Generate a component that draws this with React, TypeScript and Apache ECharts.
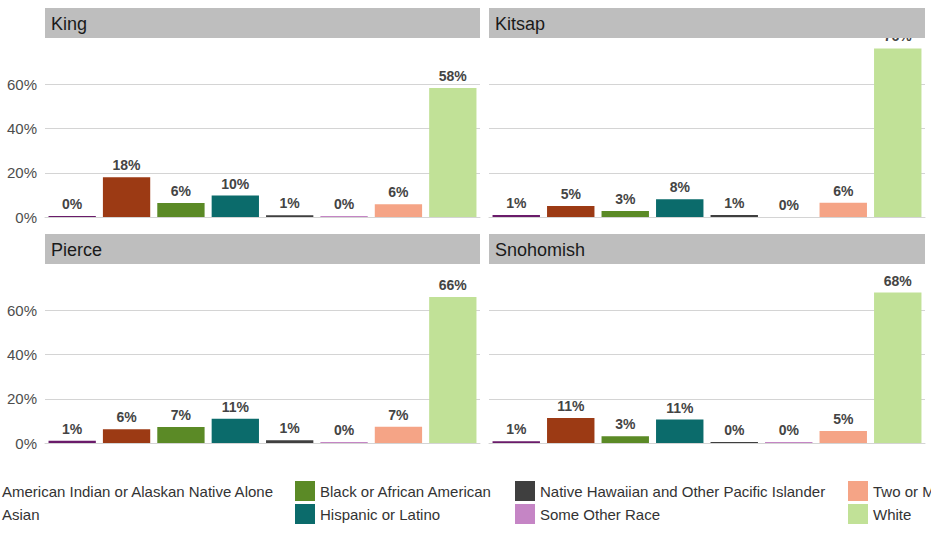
import React, { useEffect, useRef } from 'react';
import * as echarts from 'echarts';

const categories = [
  'American Indian or Alaskan Native Alone',
  'Asian',
  'Black or African American',
  'Hispanic or Latino',
  'Native Hawaiian and Other Pacific Islander',
  'Some Other Race',
  'Two or More Races',
  'White',
];
const colors = ['#6a1b6a', '#9c3a14', '#5b8a26', '#0b6b6b', '#3f3f3f', '#c585c5', '#f5a486', '#c1e197'];
const counties = ['King', 'Kitsap', 'Pierce', 'Snohomish'];
const kingValues = [0.004, 0.18, 0.063, 0.097, 0.008, 0.004, 0.058, 0.583];
const kitsapValues = [0.009, 0.05, 0.027, 0.08, 0.009, 0, 0.064, 0.762];
const pierceValues = [0.01, 0.062, 0.072, 0.11, 0.012, 0.004, 0.074, 0.66];
const snohomishValues = [0.008, 0.113, 0.031, 0.106, 0.004, 0.004, 0.054, 0.68];
const panelValues = [kingValues, kitsapValues, pierceValues, snohomishValues];
const yTicks = [0, 0.2, 0.4, 0.6];

const App: React.FC = () => {
  const chartRef = useRef<HTMLDivElement>(null);

  useEffect(() => {
    document.body.style.margin = '0';
    if (!chartRef.current) return;
    const chart = echarts.init(chartRef.current, undefined, { renderer: 'svg' });
    const boxes = [
      { left: 45, top: 40, width: 435, height: 177 },
      { left: 489, top: 40, width: 436, height: 177 },
      { left: 45, top: 266, width: 435, height: 177 },
      { left: 489, top: 266, width: 436, height: 177 },
    ];
    const font = 'Liberation Sans, Arial, sans-serif';
    const series: any[] = [];
    panelValues.forEach((vals, g) => {
      categories.forEach((name, i) => {
        series.push({
          name,
          type: 'bar',
          xAxisIndex: g,
          yAxisIndex: g,
          stack: 'g' + g,
          barCategoryGap: '13%',
          itemStyle: { color: colors[i] },
          label: {
            show: true,
            position: 'top',
            fontFamily: font,
            fontSize: 14,
            fontWeight: 'bold',
            color: '#444',
            formatter: (p: any) => Math.round(p.value * 100) + '%',
          },
          data: categories.map((_, j) => (j === i ? vals[i] : '-')),
        });
      });
    });
    const legendCols = [
      { left: -28, names: [categories[0], categories[1]] },
      { left: 290, names: [categories[2], categories[3]] },
      { left: 510, names: [categories[4], categories[5]] },
      { left: 843, names: [categories[6], categories[7]] },
    ];
    chart.setOption({
      animation: false,
      grid: boxes,
      xAxis: boxes.map((_, g) => ({
        type: 'category',
        gridIndex: g,
        data: categories,
        axisLabel: { show: false },
        axisTick: { show: false },
        axisLine: { lineStyle: { color: '#d4d4d4' } },
      })),
      yAxis: boxes.map((_, g) => ({
        type: 'value',
        gridIndex: g,
        min: 0,
        max: 0.8,
        interval: 0.2,
        axisLabel: {
          show: g % 2 === 0,
          fontFamily: font,
          fontSize: 15,
          color: '#4d4d4d',
          formatter: (v: number) => (yTicks.some((t) => Math.abs(t - v) < 1e-6) ? Math.round(v * 100) + '%' : ''),
        },
        splitLine: {
          lineStyle: { color: '#d4d4d4' },
          showMaxLine: false,
        },
        axisLine: { show: false },
        axisTick: { show: false },
      })),
      legend: legendCols.map((c) => ({
        left: c.left,
        top: 476,
        orient: 'vertical',
        icon: 'rect',
        itemWidth: 20,
        itemHeight: 20,
        itemGap: 3,
        data: c.names,
        selectedMode: false,
        textStyle: { fontFamily: font, fontSize: 15, color: '#333' },
      })),
      graphic: boxes.map((b, g) => ({
        type: 'group',
        z: 100,
        children: [
          { type: 'rect', shape: { x: b.left, y: b.top - 32, width: b.width, height: 30 }, style: { fill: '#bebebe' }, z: 100 },
          {
            type: 'text',
            x: b.left + 6,
            y: b.top - 16,
            z: 101,
            style: { text: counties[g], fontFamily: font, fontSize: 18, fill: '#1a1a1a', verticalAlign: 'middle' },
          },
        ],
      })),
      series,
    });
    return () => chart.dispose();
  }, []);

  return <div ref={chartRef} style={{ width: 931, height: 538 }} />;
};

export default App;
